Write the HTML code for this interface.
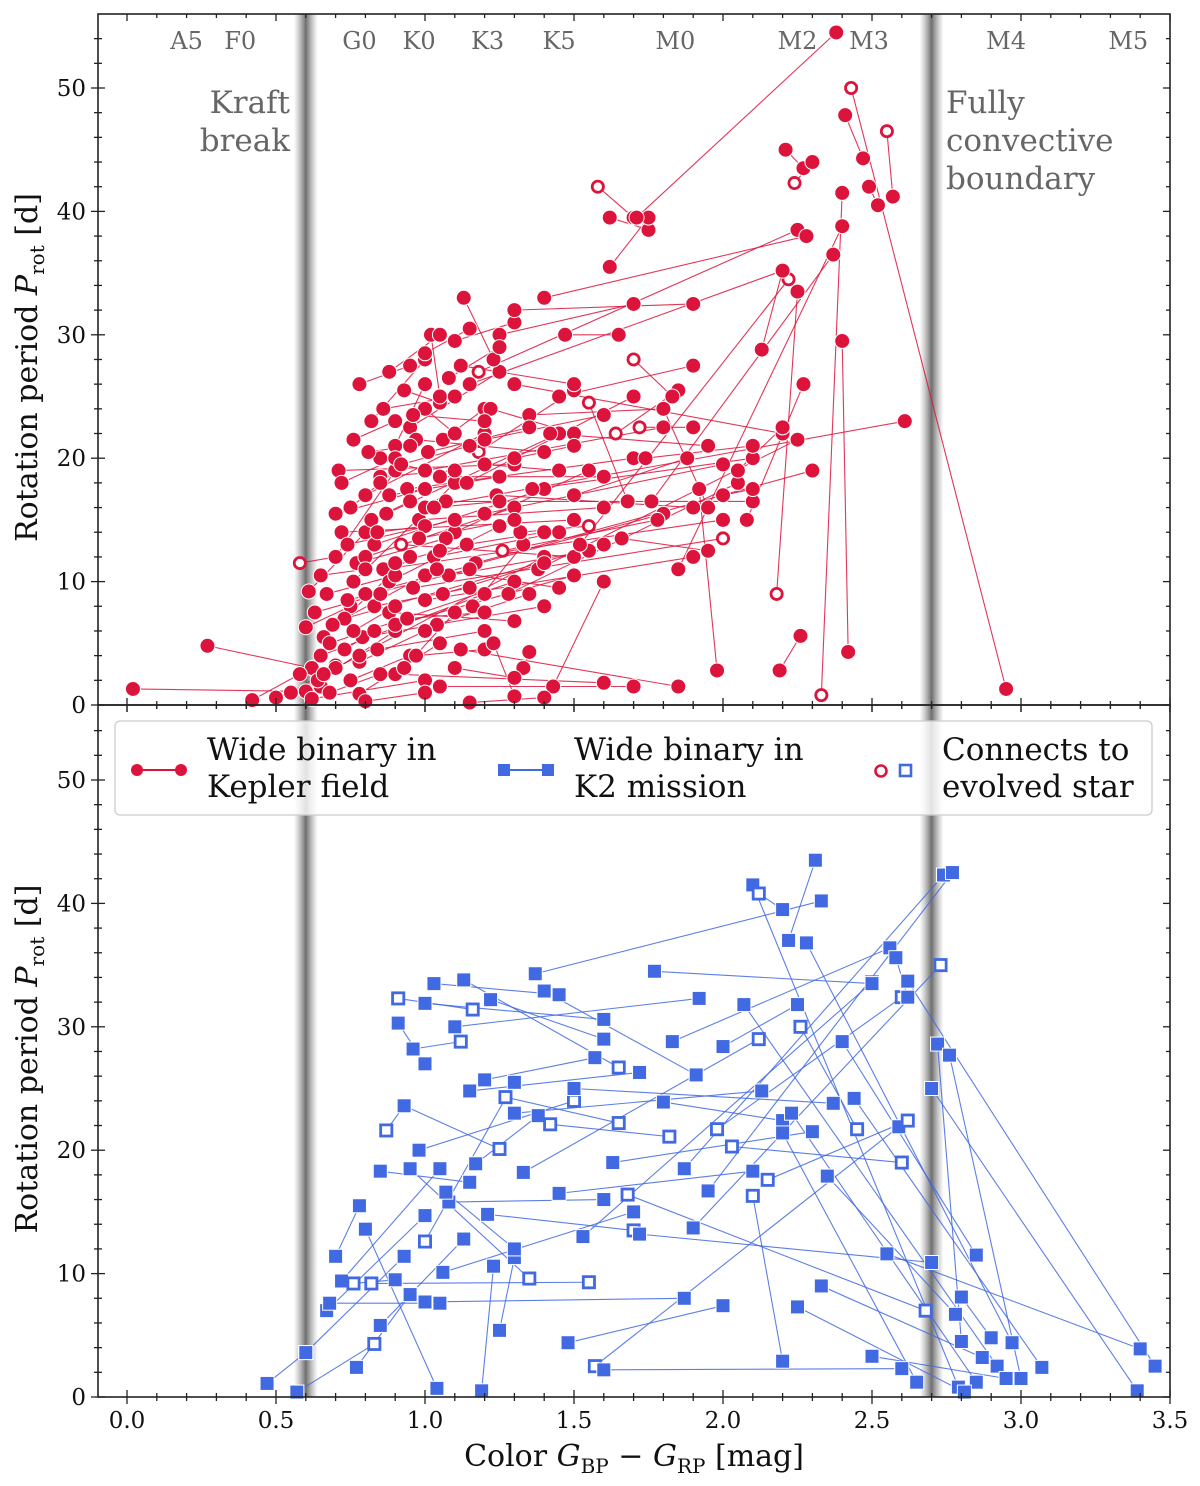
<!DOCTYPE html>
<html><head><meta charset="utf-8"><style>
html,body{margin:0;padding:0;background:#fff;}
svg{display:block;font-family:"DejaVu Serif","Liberation Serif",serif;}
</style></head><body>
<svg id="chart" width="1200" height="1486" viewBox="0 0 1200 1486" xmlns="http://www.w3.org/2000/svg">
<defs>
<linearGradient id="band" x1="0" x2="1" y1="0" y2="0">
<stop offset="0" stop-color="#888" stop-opacity="0"/>
<stop offset="0.5" stop-color="#555" stop-opacity="0.85"/>
<stop offset="1" stop-color="#888" stop-opacity="0"/>
</linearGradient>
</defs>
<g id="layer"></g>
</svg>
<script>
// [color1, period1, color2, period2]
const keplerPairs = [
[0.02,1.3,0.6,1.1],[0.27,4.8,0.62,3.0],[0.42,0.4,0.58,2.5],[0.5,0.6,0.65,1.5],[0.55,1.0,0.7,3.2],
[0.58,11.5,0.7,12.0],[0.6,6.3,0.75,8.0],[0.61,9.2,0.8,14.0],[0.62,0.5,1.0,2.0],[0.64,2.0,0.9,6.0],
[0.65,4.0,1.2,9.0],[0.66,5.5,0.95,12.0],[0.68,5.0,1.3,10.0],[0.7,3.0,1.4,12.0],[0.7,12.0,0.9,19.0],
[0.71,19.0,1.3,19.5],[0.72,14.0,1.5,15.0],[0.73,7.0,1.6,13.0],[0.75,2.0,0.95,4.0],[0.76,10.0,1.1,18.0],
[0.78,26.0,0.95,27.5],[0.78,0.9,1.05,5.0],[0.8,17.0,1.2,22.0],[0.8,9.0,1.8,15.5],[0.82,23.0,1.0,28.0],
[0.83,13.0,1.4,17.5],[0.84,4.5,1.2,6.0],[0.85,18.5,1.1,19.0],[0.86,11.0,2.0,15.0],[0.87,15.5,1.45,22.0],
[0.88,7.5,1.3,6.8],[0.9,21.0,1.0,26.0],[0.9,2.5,1.6,1.8],[0.92,13.0,1.5,12.0],[0.93,25.5,1.05,24.5],
[0.94,17.5,1.7,20.0],[0.95,22.5,1.25,27.0],[0.96,9.5,2.0,13.5],[0.97,4.0,1.2,4.5],[0.98,15.0,1.6,16.0],
[1.0,8.5,1.9,12.0],[1.0,19.0,1.8,22.5],[1.02,30.0,1.05,25.0],[1.03,12.0,1.45,14.0],[1.04,6.5,1.35,9.0],
[1.05,1.5,1.7,1.5],[1.06,21.5,1.2,24.0],[1.07,16.5,2.1,16.5],[1.08,10.5,1.55,12.5],[1.1,29.5,1.3,31.0],
[1.1,14.0,1.55,19.0],[1.12,4.5,1.85,1.5],[1.13,33.0,1.23,28.0],[1.14,18.0,1.7,25.0],[1.15,26.0,2.2,35.2],
[1.16,8.0,1.33,13.0],[1.17,11.5,2.3,19.0],[1.18,20.5,1.5,25.5],[1.18,27.0,2.25,38.5],[1.2,15.5,2.0,19.5],
[1.22,24.0,1.5,22.0],[1.23,5.0,1.3,0.7],[1.24,17.0,1.9,16.0],[1.25,30.0,1.7,32.5],[1.26,12.5,1.78,15.0],
[1.3,20.0,1.5,21.0],[1.28,9.0,2.05,18.0],[1.3,32.0,1.9,32.5],[1.3,26.0,2.2,22.0],[1.32,14.0,1.55,14.5],
[1.33,3.0,1.35,4.3],[1.35,23.5,1.8,24.0],[1.36,17.5,2.1,20.0],[1.38,11.0,2.25,21.5],[1.4,33.0,2.28,38.0],
[1.42,22.0,1.95,21.0],[1.43,1.5,1.6,10.0],[1.45,25.0,1.9,27.5],[1.47,30.0,1.65,30.0],[1.5,17.0,1.88,20.0],
[1.52,13.0,2.22,34.5],[1.55,24.5,1.68,16.5],[1.58,42.0,1.7,39.5],[1.62,39.5,1.75,38.5],[1.62,35.5,1.75,39.5],
[1.64,22.0,1.85,25.5],[1.66,13.5,1.95,12.5],[1.7,28.0,1.83,25.0],[1.72,22.5,1.9,22.5],[1.74,20.0,2.1,21.0],
[1.76,16.5,2.37,36.5],[1.8,24.0,1.95,16.0],[1.85,11.0,2.4,38.8],[1.92,17.5,1.98,2.8],[2.0,17.0,2.1,17.5],
[2.05,19.0,2.2,22.5],[2.08,15.0,2.27,26.0],[2.13,28.8,2.2,35.2],[2.18,9.0,2.25,33.5],[2.19,2.8,2.26,5.6],
[2.21,45.0,2.27,43.5],[2.24,42.3,2.3,44.0],[2.33,0.8,2.4,41.5],[2.38,54.5,1.71,39.5],[2.4,29.5,2.42,4.3],
[2.41,47.8,2.47,44.3],[2.43,50.0,2.95,1.3],[2.49,42.0,2.52,40.5],[2.55,46.5,2.57,41.2],[2.61,23.0,1.0,16.0],
[0.69,6.5,1.0,10.5],[0.74,8.5,1.15,11.0],[0.77,11.5,1.07,13.5],[0.79,5.5,1.4,8.0],[0.82,15.0,0.95,16.5],
[0.88,10.0,1.25,14.5],[0.9,6.5,1.5,10.5],[0.93,3.0,1.1,7.5],[0.97,21.5,1.4,20.5],[1.0,24.0,1.1,22.0],
[1.05,18.5,1.6,18.5],[1.12,27.5,1.5,26.0],[0.85,20.0,1.0,19.0],[0.75,16.0,0.85,18.0],[1.04,11.0,1.45,9.5],
[1.2,21.5,1.6,23.5],[0.67,9.0,0.9,10.5],[0.73,4.5,0.83,6.0],[1.15,0.2,1.4,0.6],[0.8,0.3,1.0,1.0],
[0.7,15.5,1.0,17.5],[0.72,18.0,0.9,20.0],[0.74,13.0,1.1,15.0],[0.76,6.0,0.9,8.0],[0.78,3.5,1.0,6.0],
[0.8,12.0,1.3,16.0],[0.81,20.5,0.95,21.0],[0.83,8.0,1.15,9.5],[0.84,14.0,1.0,14.5],[0.86,24.0,1.1,25.0],
[0.88,17.0,1.25,18.5],[0.9,11.5,1.05,12.5],[0.92,19.5,1.15,21.0],[0.94,7.0,1.2,7.5],[0.96,23.5,1.2,23.0],
[0.98,13.5,1.3,15.0],[1.01,20.5,1.35,22.5],[1.03,16.0,1.25,16.5],[1.06,9.0,1.4,11.5],[1.08,26.5,1.25,29.0],
[1.1,3.0,1.3,2.2],[0.66,2.5,0.78,4.0],[0.68,1.0,0.85,2.5],[0.63,7.5,0.85,9.0],[0.65,10.5,0.8,11.0],
[0.76,21.5,0.9,23.0],[1.14,13.0,1.4,14.0],[1.2,19.5,1.45,19.0],[1.0,28.5,1.15,30.5],[0.88,27.0,1.05,30.0]
];
// evolved (open) markers: [pairIndex, end(0 or 1)]
const keplerOpen = [[5,0],[33,0],[37,1],[57,0],[64,0],[69,1],[80,1],[81,0],[82,0],[85,0],[87,0],[88,0],[98,0],[101,0],[102,0],[106,0],[108,0],[58,0]];
const k2Pairs = [
[0.47,1.1,0.6,3.6],[0.57,0.4,0.83,4.3],[0.6,3.6,0.93,11.4],[0.67,7.0,1.0,14.7],[0.68,7.6,1.05,7.6],
[0.7,11.4,0.78,15.5],[0.72,9.4,1.05,18.5],[0.76,9.2,0.9,9.5],[0.77,2.4,0.95,8.3],[0.8,13.6,1.04,0.7],
[0.82,9.2,1.55,9.3],[0.85,5.8,1.13,12.8],[0.87,21.6,0.93,23.6],[0.91,32.3,1.16,31.4],[0.91,30.3,1.0,27.0],
[0.93,23.6,1.25,20.1],[0.95,18.5,1.35,9.6],[0.96,28.2,1.12,28.8],[0.98,20.0,1.5,24.0],[1.0,12.6,1.3,25.5],
[1.0,7.7,1.87,8.0],[1.03,33.5,1.45,32.6],[1.06,10.1,1.7,15.0],[1.08,15.8,1.6,16.0],[1.1,30.0,1.92,32.3],
[1.13,33.8,1.65,26.7],[1.15,24.8,1.72,26.3],[1.17,18.9,1.38,22.8],[1.19,0.5,1.23,10.6],[1.2,25.7,1.57,27.5],
[1.21,14.8,1.7,13.5],[1.22,32.2,1.6,29.0],[1.25,5.4,1.3,11.3],[1.27,24.3,1.65,22.2],[1.3,23.0,2.13,24.8],
[1.33,18.2,2.12,29.0],[1.37,34.3,2.33,40.2],[1.4,32.9,1.91,26.1],[1.42,22.1,1.82,21.1],[1.45,16.5,2.1,18.3],
[1.48,4.4,2.0,7.4],[1.5,25.0,2.37,23.8],[1.53,13.0,2.5,33.6],[1.57,2.5,2.59,21.9],[1.6,2.2,2.6,2.3],
[1.63,19.0,2.3,21.5],[1.68,16.4,2.68,7.0],[1.72,13.2,2.7,10.9],[1.77,34.5,2.5,33.5],[1.8,23.9,2.2,22.4],
[1.83,28.8,2.56,36.4],[1.87,18.5,2.74,42.3],[1.9,13.7,2.73,35.0],[1.95,16.7,2.77,42.5],[1.98,21.7,2.6,32.4],
[2.0,28.4,2.25,31.8],[2.03,20.3,2.6,19.0],[2.07,31.8,2.92,2.5],[2.1,41.5,2.79,0.8],[2.12,40.8,2.2,39.5],
[2.15,17.6,2.62,22.4],[2.2,21.4,2.65,1.2],[2.23,23.0,2.85,1.2],[2.26,30.0,2.45,21.7],[2.28,36.8,2.97,4.4],
[2.31,43.5,2.22,37.0],[2.33,9.0,2.87,3.2],[2.35,17.9,2.78,6.7],[2.4,28.8,2.85,11.5],[2.44,24.2,3.07,2.4],
[2.5,3.3,2.95,1.5],[2.55,11.6,3.4,3.9],[2.58,35.6,2.62,32.4],[2.62,33.7,3.45,2.5],[2.7,25.0,3.39,0.5],
[2.72,28.6,2.8,4.5],[2.76,27.7,3.0,1.5],[2.8,8.1,2.9,4.8],[2.25,7.3,2.81,0.4],[1.0,31.9,1.6,30.6],
[0.85,18.3,1.15,17.4],[1.07,16.6,1.3,12.0],[2.2,2.9,2.1,16.3]
];
const k2Open = [[1,1],[7,0],[10,0],[10,1],[12,0],[13,0],[13,1],[15,1],[16,1],[17,1],[18,1],[19,0],[25,1],[30,1],[33,0],[33,1],[35,1],[38,0],[38,1],[42,1],[43,0],[46,0],[46,1],[52,1],[54,0],[54,1],[56,0],[56,1],[59,0],[60,0],[60,1],[63,0],[63,1],[82,1]];
const xTicks = [0.0,0.5,1.0,1.5,2.0,2.5,3.0,3.5];
const yTicks = [0,10,20,30,40,50];
const spectralTypes = ["A5","F0","G0","K0","K3","K5","M0","M2","M3","M4","M5"];
const spectralColors = [0.2,0.38,0.78,0.98,1.21,1.45,1.84,2.25,2.49,2.95,3.36];

const NS="http://www.w3.org/2000/svg";
const layer=document.getElementById('layer');
function el(tag,attrs,parent){const e=document.createElementNS(NS,tag);for(const k in attrs)e.setAttribute(k,attrs[k]);(parent||layer).appendChild(e);return e;}
const X0=98,X1=1170;
const xs=c=>127+c*298;
const panels=[{top:14,bottom:705},{top:705,bottom:1397}];
const ys=(p,pi)=>panels[pi].bottom-p*12.34;

[0.6,2.7].forEach((c,i)=>{
  const r=el('rect',{x:xs(c)-12,y:14,width:24,height:1383,fill:'url(#band)'});
  
  
});

function drawSeries(pairs,open,pi,color,shape,name){
  const g=el('g',{});
  
  
  pairs.forEach(p=>{
    const l=el('line',{x1:xs(p[0]),y1:ys(p[1],pi),x2:xs(p[2]),y2:ys(p[3],pi),stroke:color,'stroke-width':1.1,'stroke-opacity':0.85},g);
    
    
  });
  const isOpen=(i,e)=>open.some(o=>o[0]===i&&o[1]===e);
  pairs.forEach((p,i)=>{
    [0,1].forEach(e=>{
      const cx=xs(p[e*2]),cy=ys(p[e*2+1],pi),o=isOpen(i,e);
      let m;
      if(shape==='circle'){
        m=o?el('circle',{cx,cy,r:5.6,fill:'#fff',stroke:color,'stroke-width':2.8},g)
           :el('circle',{cx,cy,r:7.5,fill:color,stroke:'#fff','stroke-width':1},g);
      }else{
        m=o?el('rect',{x:cx-5.6,y:cy-5.6,width:11.2,height:11.2,fill:'#fff',stroke:color,'stroke-width':2.8},g)
           :el('rect',{x:cx-7,y:cy-7,width:14,height:14,fill:color,stroke:'#fff','stroke-width':1},g);
      }
      
      
    });
  });
}
drawSeries(keplerPairs,keplerOpen,0,'#DC143C','circle','kepler-series');
drawSeries(k2Pairs,k2Open,1,'#4169E1','square','k2-series');

panels.forEach((pn,pi)=>{
  const f=el('rect',{x:X0,y:pn.top,width:X1-X0,height:pn.bottom-pn.top,fill:'none',stroke:'#222','stroke-width':1.6});
  
  
  for(let k=-1;k<=35;k++){
    const c=k/10,x=xs(c);if(x<X0||x>X1)continue;
    const major=k%5===0,len=major?7:4;
    el('line',{x1:x,x2:x,y1:pn.bottom-len,y2:pn.bottom+len,stroke:'#222','stroke-width':1.3});
    el('line',{x1:x,x2:x,y1:pn.top,y2:pn.top+len,stroke:'#222','stroke-width':1.3});
  }
  for(let v=0;v<=54;v+=2){
    const y=ys(v,pi);if(y<pn.top)continue;
    const major=v%10===0,len=major?7:4;
    el('line',{x1:X0-len,x2:X0+len,y1:y,y2:y,stroke:'#222','stroke-width':1.3});
    el('line',{x1:X1-len,x2:X1,y1:y,y2:y,stroke:'#222','stroke-width':1.3});
  }
  yTicks.forEach(v=>{
    const t=el('text',{x:86,y:ys(v,pi)+8,'text-anchor':'end','font-size':23,fill:'#111'});
    t.textContent=v;
    
    
  });
  const yl=el('text',{transform:`translate(37,${(pn.top+pn.bottom)/2+8}) rotate(-90)`,'text-anchor':'middle','font-size':30,fill:'#111'});
  yl.innerHTML='Rotation period <tspan font-style="italic">P</tspan><tspan font-size="20" dy="7">rot</tspan><tspan dy="-7"> [d]</tspan>';
  
  
});
xTicks.forEach(c=>{
  const t=el('text',{x:xs(c),y:1428,'text-anchor':'middle','font-size':23,fill:'#111'});
  t.textContent=c.toFixed(1);
  
  
});
const xl=el('text',{x:634,y:1466,'text-anchor':'middle','font-size':30,fill:'#111'});
xl.innerHTML='Color <tspan font-style="italic">G</tspan><tspan font-size="20" dy="7">BP</tspan><tspan dy="-7"> − </tspan><tspan font-style="italic">G</tspan><tspan font-size="20" dy="7">RP</tspan><tspan dy="-7"> [mag]</tspan>';



spectralTypes.forEach((s,i)=>{
  const t=el('text',{x:xs(spectralColors[i]),y:49,'text-anchor':'middle','font-size':24,fill:'#666'});
  t.textContent=s;
  
  
});
[['Kraft',290,113,'end'],['break',290,151,'end'],['Fully',946,113,'start'],['convective',946,151,'start'],['boundary',946,189,'start']].forEach(a=>{
  const t=el('text',{x:a[1],y:a[2],'text-anchor':a[3],'font-size':31,fill:'#666'});
  t.textContent=a[0];
  
  
});

const lg=el('g',{});


el('rect',{x:115,y:721,width:1037,height:94,rx:5,fill:'#fff','fill-opacity':0.8,stroke:'#ccc','stroke-width':1.3},lg);
el('line',{x1:137,x2:181,y1:770,y2:770,stroke:'#DC143C','stroke-width':2},lg);
el('circle',{cx:137,cy:770,r:6,fill:'#DC143C'},lg);
el('circle',{cx:181,cy:770,r:6,fill:'#DC143C'},lg);
el('line',{x1:504,x2:548,y1:770,y2:770,stroke:'#4169E1','stroke-width':2},lg);
el('rect',{x:498,y:764,width:12,height:12,fill:'#4169E1'},lg);
el('rect',{x:542,y:764,width:12,height:12,fill:'#4169E1'},lg);
el('circle',{cx:881,cy:771,r:5.5,fill:'#fff',stroke:'#DC143C','stroke-width':2.6},lg);
el('rect',{x:900,y:765,width:11,height:11,fill:'#fff',stroke:'#4169E1','stroke-width':2.6},lg);
[['Wide binary in',207,760],['Kepler field',207,797],['Wide binary in',574,760],['K2 mission',574,797],['Connects to',942,760],['evolved star',942,797]].forEach(a=>{
  const t=el('text',{x:a[1],y:a[2],'font-size':31,fill:'#111'},lg);
  t.textContent=a[0];
  
  
});
</script>
</body></html>
